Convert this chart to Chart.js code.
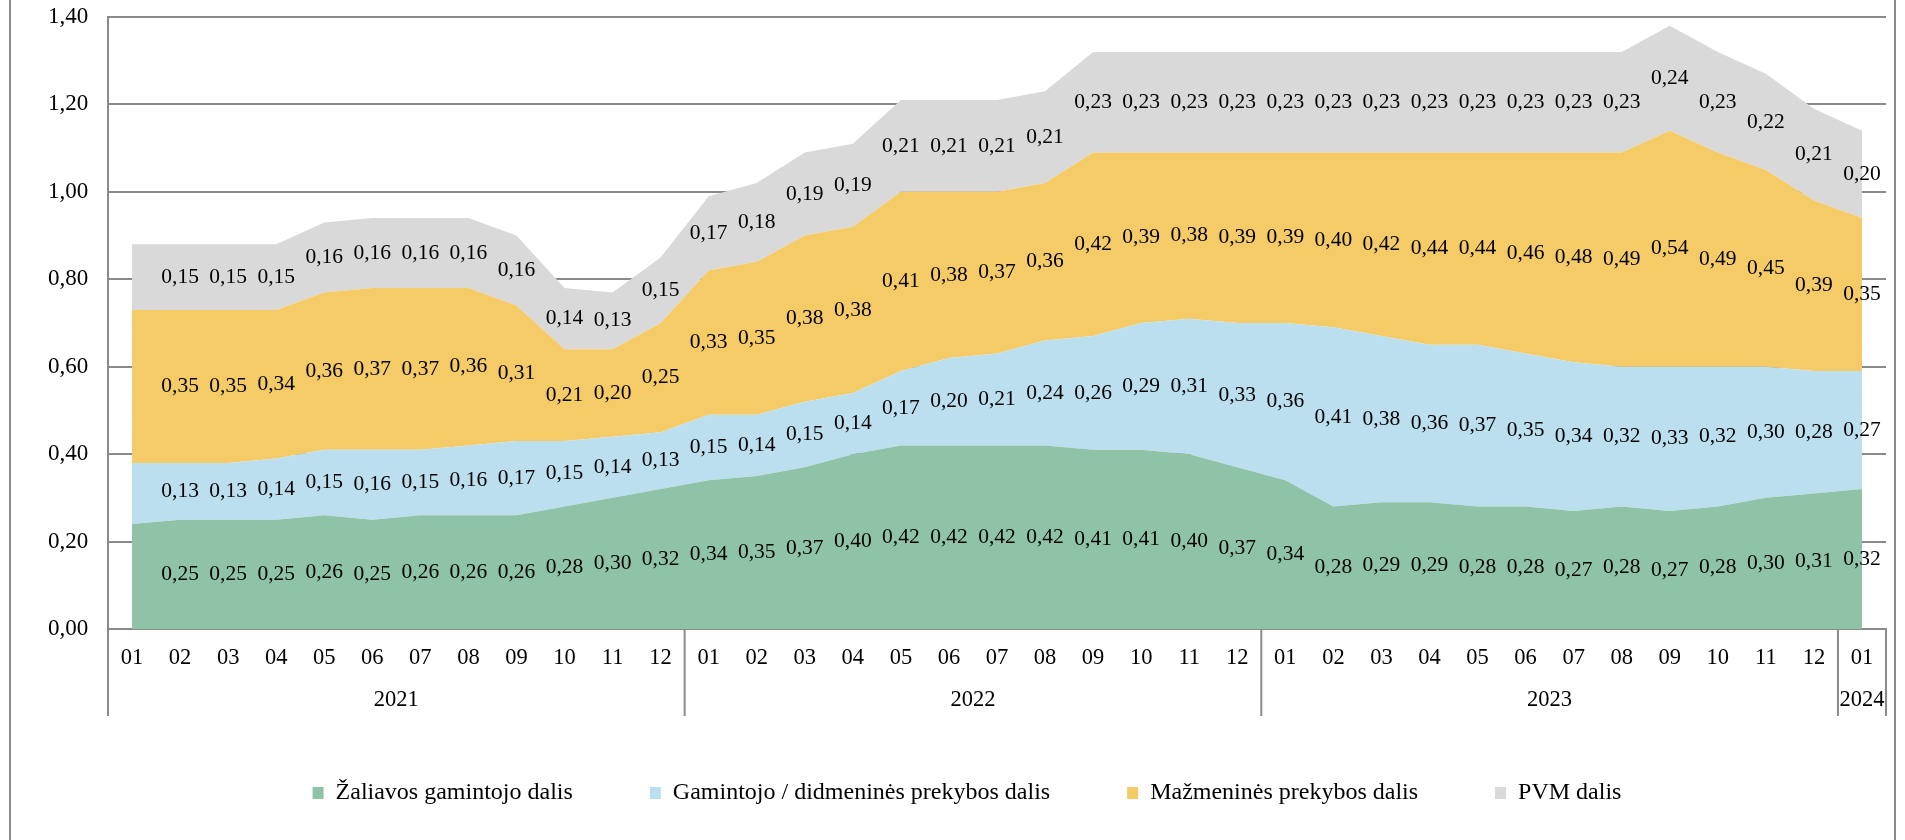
<!doctype html>
<html>
<head>
<meta charset="utf-8">
<title>Kainos struktūra</title>
<script src="https://cdn.jsdelivr.net/npm/chart.js@4.4.1/dist/chart.umd.min.js"></script>
<style>
  html, body { margin: 0; padding: 0; background: #ffffff; }
  #wrap { width: 1905px; height: 840px; }
</style>
</head>
<body>
<div id="wrap"><canvas id="grafikas" width="1905" height="840"></canvas></div>

<script>
// menesiai ir metai ant x asies
var menesiai = ["01","02","03","04","05","06","07","08","09","10","11","12",
                "01","02","03","04","05","06","07","08","09","10","11","12",
                "01","02","03","04","05","06","07","08","09","10","11","12",
                "01"];
var metai = ["2021", "2022", "2023", "2024"];
var metuMenesiai = [12, 12, 12, 1];

// dalys (EUR)
var zaliava = [0.24, 0.25, 0.25, 0.25, 0.26, 0.25, 0.26, 0.26, 0.26, 0.28, 0.30, 0.32,
               0.34, 0.35, 0.37, 0.40, 0.42, 0.42, 0.42, 0.42, 0.41, 0.41, 0.40, 0.37,
               0.34, 0.28, 0.29, 0.29, 0.28, 0.28, 0.27, 0.28, 0.27, 0.28, 0.30, 0.31,
               0.32];
var didmenine = [0.14, 0.13, 0.13, 0.14, 0.15, 0.16, 0.15, 0.16, 0.17, 0.15, 0.14, 0.13,
                 0.15, 0.14, 0.15, 0.14, 0.17, 0.20, 0.21, 0.24, 0.26, 0.29, 0.31, 0.33,
                 0.36, 0.41, 0.38, 0.36, 0.37, 0.35, 0.34, 0.32, 0.33, 0.32, 0.30, 0.28,
                 0.27];
var mazmenine = [0.35, 0.35, 0.35, 0.34, 0.36, 0.37, 0.37, 0.36, 0.31, 0.21, 0.20, 0.25,
                 0.33, 0.35, 0.38, 0.38, 0.41, 0.38, 0.37, 0.36, 0.42, 0.39, 0.38, 0.39,
                 0.39, 0.40, 0.42, 0.44, 0.44, 0.46, 0.48, 0.49, 0.54, 0.49, 0.45, 0.39,
                 0.35];
var pvm = [0.15, 0.15, 0.15, 0.15, 0.16, 0.16, 0.16, 0.16, 0.16, 0.14, 0.13, 0.15,
           0.17, 0.18, 0.19, 0.19, 0.21, 0.21, 0.21, 0.21, 0.23, 0.23, 0.23, 0.23,
           0.23, 0.23, 0.23, 0.23, 0.23, 0.23, 0.23, 0.23, 0.24, 0.23, 0.22, 0.21,
           0.20];

var serifas = "'Liberation Serif', 'Times New Roman', serif";
var linija = '#8a8a8a';

function kablelis(v) {
    return Number(v).toFixed(2).replace('.', ',');
}

function sluoksnis(pavadinimas, reiksmes, spalva, uzpildas) {
    return {
        label: pavadinimas,
        data: reiksmes,
        backgroundColor: spalva,
        borderColor: spalva,
        borderWidth: 0,
        pointRadius: 0,
        pointHoverRadius: 0,
        tension: 0,
        fill: uzpildas
    };
}

// reiksmes sluoksniu viduryje (pirmas menuo be uzraso)
var reiksmiuUzrasai = {
    id: 'reiksmiuUzrasai',
    afterDatasetsDraw: function(chart) {
        var ctx = chart.ctx;
        var y0 = chart.scales.y.getPixelForValue(0);
        ctx.save();
        ctx.font = '21.5px ' + serifas;
        ctx.fillStyle = '#000000';
        ctx.textAlign = 'center';
        ctx.textBaseline = 'middle';
        for (var i = 0; i < chart.data.datasets.length; i++) {
            var meta = chart.getDatasetMeta(i);
            var ankstesnis = i > 0 ? chart.getDatasetMeta(i - 1) : null;
            for (var j = 1; j < meta.data.length; j++) {
                var virsus = meta.data[j].y;
                var apacia = ankstesnis ? ankstesnis.data[j].y : y0;
                ctx.fillText(kablelis(chart.data.datasets[i].data[j]), meta.data[j].x, (virsus + apacia) / 2);
            }
        }
        ctx.restore();
    }
};

// remelis, metu skirtukai ir metu uzrasai
var metuAsis = {
    id: 'metuAsis',
    beforeDraw: function(chart) {
        var ctx = chart.ctx;
        ctx.save();
        ctx.strokeStyle = linija;
        ctx.lineWidth = 2;
        ctx.beginPath();
        ctx.moveTo(10, 0); ctx.lineTo(10, chart.height);
        ctx.moveTo(chart.width - 10, 0); ctx.lineTo(chart.width - 10, chart.height);
        ctx.stroke();
        ctx.restore();
    },
    afterDraw: function(chart) {
        var x = chart.scales.x;
        var ctx = chart.ctx;
        var apacia = chart.chartArea.bottom;
        var plotis = (x.right - x.left) / menesiai.length;
        ctx.save();
        ctx.strokeStyle = linija;
        ctx.lineWidth = 2;
        ctx.font = '22.5px ' + serifas;
        ctx.fillStyle = '#000000';
        ctx.textAlign = 'center';
        ctx.textBaseline = 'middle';
        ctx.beginPath();
        ctx.moveTo(x.left, apacia);
        ctx.lineTo(x.left, apacia + 87);
        var n = 0;
        for (var k = 0; k < metai.length; k++) {
            var pradzia = x.left + n * plotis;
            n += metuMenesiai[k];
            var pabaiga = x.left + n * plotis;
            ctx.moveTo(pabaiga, apacia);
            ctx.lineTo(pabaiga, apacia + 87);
            ctx.fillText(metai[k], (pradzia + pabaiga) / 2, apacia + 71);
        }
        ctx.stroke();
        ctx.restore();
    }
};

Chart.defaults.color = '#000000';
Chart.defaults.font.family = serifas;

new Chart(document.getElementById('grafikas'), {
    type: 'line',
    data: {
        labels: menesiai,
        datasets: [
            sluoksnis('Žaliavos gamintojo dalis', zaliava, '#8fc3a7', 'origin'),
            sluoksnis('Gamintojo / didmeninės prekybos dalis', didmenine, '#bcdfef', '-1'),
            sluoksnis('Mažmeninės prekybos dalis', mazmenine, '#f4cb66', '-1'),
            sluoksnis('PVM dalis', pvm, '#d9d9d9', '-1')
        ]
    },
    options: {
        responsive: false,
        animation: false,
        events: [],
        layout: { padding: { left: 48, right: 19, top: 17, bottom: 25 } },
        plugins: {
            tooltip: { enabled: false },
            legend: {
                position: 'bottom',
                labels: {
                    boxWidth: 11,
                    boxHeight: 12,
                    padding: 77,
                    font: { size: 24, family: serifas },
                    color: '#000000'
                }
            }
        },
        scales: {
            x: {
                offset: true,
                grid: { display: false, drawTicks: false },
                border: { display: true, color: linija, width: 2 },
                ticks: {
                    autoSkip: false,
                    maxRotation: 0,
                    padding: 16,
                    font: { size: 22.5, family: serifas }
                },
                afterFit: function(scale) { scale.height = 75; }
            },
            y: {
                stacked: true,
                min: 0,
                max: 1.4,
                grid: { color: linija, lineWidth: 2, drawTicks: false },
                border: { display: true, color: linija, width: 2 },
                ticks: {
                    stepSize: 0.2,
                    padding: 0,
                    crossAlign: 'far',
                    font: { size: 23, family: serifas },
                    callback: function(v) { return kablelis(v); }
                },
                afterFit: function(scale) { scale.width = 60; }
            }
        }
    },
    plugins: [reiksmiuUzrasai, metuAsis]
});
</script>
</body>
</html>
